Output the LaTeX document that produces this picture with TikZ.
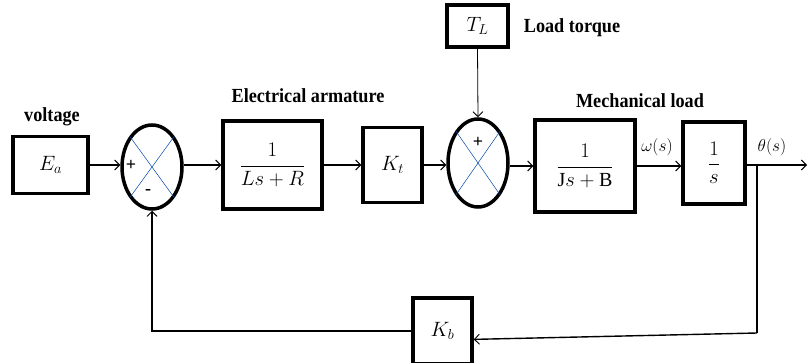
\documentclass[tikz,border=0pt]{standalone}
\usepackage{fontspec}
\setmainfont{Liberation Serif}
\newfontfamily\lblfont{Liberation Serif}[FakeStretch=0.91]
\usetikzlibrary{shapes.geometric,arrows.meta,shadows}
\begin{document}
\begin{tikzpicture}[x=1pt,y=-1pt,
  blk/.style={draw,line width=3.5pt,fill=white,inner sep=0pt,
    drop shadow={opacity=0.25,shadow xshift=1.5pt,shadow yshift=-1.5pt},
    font=\fontsize{22}{24}\selectfont},
  fracblk/.style={blk,font=\fontsize{20}{22}\selectfont},
  sumnode/.style={draw,ellipse,line width=3.5pt,minimum width=60pt,inner sep=0pt,fill=white},
  lbl/.style={font=\lblfont\bfseries\fontsize{20}{22}\selectfont,inner sep=0pt},
  sig/.style={font=\fontsize{16}{18}\selectfont,inner sep=0pt},
  sgn/.style={font=\fontsize{18}{20}\selectfont\bfseries,inner sep=0pt},
  arr/.style={line width=1.4pt,-{Straight Barb[length=5pt,width=10pt,line width=0.9pt]}},
  wire/.style={line width=1.4pt},
  crossl/.style={draw=blue!60!cyan!70!black,line width=0.5pt}
]
\useasboundingbox (0,0) rectangle (808,363);
\fill[white] (0,0) rectangle (808,363);

% blocks
\node[blk,minimum width=75pt,minimum height=57pt] (ea) at (50.5,165) {$E_a$};
\node[sumnode,minimum height=84pt] (s1) at (152,167) {};
\node[fracblk,minimum width=99pt,minimum height=88pt] (b1) at (272.5,165) {$\displaystyle\frac{1}{Ls+R}$};
\node[blk,minimum width=59pt,minimum height=75pt] (kt) at (392.5,165) {$K_t$};
\node[sumnode,minimum height=88pt] (s2) at (478,163) {};
\node[blk,minimum width=61pt,minimum height=42pt] (tl) at (477.5,26) {$T_L$};
\node[fracblk,minimum width=100pt,minimum height=92pt] (bj) at (585,166) {$\displaystyle\frac{1}{\mathrm{J}s+\mathrm{B}}$};
\node[blk,minimum width=62pt,minimum height=82pt] (bs) at (714,163) {$\displaystyle\frac{1}{s}$};
\node[blk,minimum width=59pt,minimum height=66pt] (kb) at (442.5,331) {$K_b$};

% crosses in summing junctions
\foreach \s in {s1,s2}{
  \draw[crossl] (\s.north east) -- (\s.south west);
  \draw[crossl] (\s.north west) -- (\s.south east);
}

% signs
\node[sgn] (p1) at (131,165) {+};
\node[sgn] (m1) at (148,192) {-};
\node[sgn] (p2) at (478,142) {+};

% coordinates
\coordinate (j) at (757,165);
\coordinate (out) at (807,165);
\coordinate (jb) at (757,333);

% connectors
\draw[arr] (ea.east) -- (ea.east -| s1.west);
\draw[arr] (s1.east |- b1.west) -- (b1.west);
\draw[arr] (b1.east) -- (kt.west);
\draw[arr] (kt.east) -- (kt.east -| s2.west);
\draw[arr] (s2.east |- bj.west) -- (bj.west);
\draw[arr] (bj.east) -- (bj.east -| bs.west);
\draw[arr] (j -| bs.east) -- (out);
\draw[wire] (j) -- (jb);
\draw[arr] (jb) -- (kb.-15);
\draw[arr] (kb.west) -| (s1.south);
\draw[arr,line width=0.8pt] (tl.south) -- (s2.north);

% labels
\node[lbl] (lv) at (52,117) {voltage};
\node[lbl] (lea) at (308,96) {Electrical armature};
\node[lbl] (llt) at (572,28) {Load torque};
\node[lbl] (lml) at (640,101) {Mechanical load};
\node[sig] (lw) at (657,147) {$\omega(s)$};
\node[sig] (lt) at (772,147) {$\theta(s)$};
\end{tikzpicture}
\end{document}
